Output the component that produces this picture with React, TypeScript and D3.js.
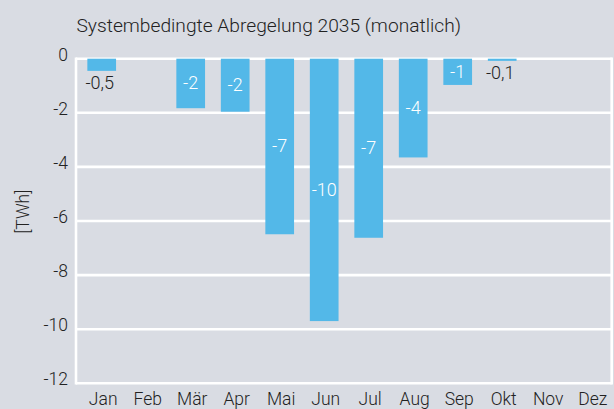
import React from "react";
import * as d3 from "d3";

const months = ["Jan", "Feb", "Mär", "Apr", "Mai", "Jun", "Jul", "Aug", "Sep", "Okt", "Nov", "Dez"];
const values = [-0.45, 0, -1.83, -1.96, -6.49, -9.7, -6.62, -3.65, -0.97, -0.08, 0, 0];
const valueLabels = ["-0,5", "", "-2", "-2", "-7", "-10", "-7", "-4", "-1", "-0,1", "", ""];
const yTicks = [0, -2, -4, -6, -8, -10, -12];
const title = "Systembedingte Abregelung 2035 (monatlich)";
const yTitle = "[TWh]";

const W = 614;
const H = 409;
const FONT = "Roboto, 'Noto Sans', sans-serif";
const BG = "#d9dce3";
const BAR = "#53b8e8";
const TEXT = "#222222";
const WEIGHT = 300;

export default function App() {
  const frameLeft = 76;
  const frameRight = 611.7;
  const x = d3.scaleBand<string>().domain(months).range([79.45, 613.45]).paddingInner(0.355).paddingOuter(0.1775);
  const y = d3.scaleLinear().domain([0, -12]).range([58.7, 383.3]);

  return (
    <svg
      width={W}
      height={H}
      style={{ position: "fixed", left: 0, top: 0, display: "block", background: BG }}
      fontFamily={FONT}
      fontWeight={WEIGHT}
    >
      <rect x={0} y={0} width={W} height={H} fill={BG} />
      <text x={76.5} y={32.3} fontSize={19.2} fill={TEXT}>
        {title}
      </text>
      {yTicks.map((t) => (
        <line key={t} x1={frameLeft} x2={frameRight} y1={y(t)} y2={y(t)} stroke="#ffffff" strokeWidth={2.6} />
      ))}
      <line x1={frameLeft} x2={frameLeft} y1={y(0) - 1.3} y2={y(-12) + 1.3} stroke="#ffffff" strokeWidth={2.6} />
      <line x1={frameRight} x2={frameRight} y1={y(0) - 1.3} y2={y(-12) + 1.3} stroke="#ffffff" strokeWidth={2.6} />
      {yTicks.map((t) => (
        <text key={t} x={68} y={y(t) + 2} fontSize={17.5} fill={TEXT} textAnchor="end">
          {d3.format("d")(t).replace("−", "-")}
        </text>
      ))}
      <text transform={`translate(28.5, ${211.7}) rotate(-90)`} fontSize={17.5} fill={TEXT} textAnchor="middle">
        {yTitle}
      </text>
      {values.map((v, i) =>
        v < 0 ? (
          <rect
            key={months[i]}
            x={x(months[i])}
            y={y(0)}
            width={x.bandwidth()}
            height={y(v) - y(0)}
            fill={BAR}
          />
        ) : null
      )}
      {values.map((v, i) => {
        const lbl = valueLabels[i];
        if (!lbl) return null;
        const cx = (x(months[i]) as number) + x.bandwidth() / 2;
        const inside = Math.abs(v) >= 0.9;
        if (inside) {
          return (
            <text
              key={months[i]}
              x={cx}
              y={(y(0) + y(v)) / 2 + 6}
              fontSize={18}
              fill="#ffffff"
              textAnchor="middle"
            >
              {lbl}
            </text>
          );
        }
        return (
          <text key={months[i]} x={cx - 2} y={y(v) + 18.5} fontSize={18} fill={TEXT} textAnchor="middle">
            {lbl}
          </text>
        );
      })}
      {months.map((m) => (
        <text
          key={m}
          x={(x(m) as number) + x.bandwidth() / 2 + 1.5}
          y={405}
          fontSize={17.5}
          fill={TEXT}
          textAnchor="middle"
        >
          {m}
        </text>
      ))}
    </svg>
  );
}
